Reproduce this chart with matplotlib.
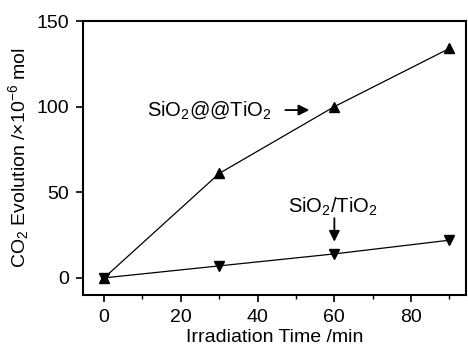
import matplotlib
matplotlib.use("Agg")
import matplotlib.pyplot as plt
from matplotlib.ticker import MultipleLocator

plt.rcParams['font.family'] = ['Liberation Sans', 'DejaVu Sans']
plt.rcParams['mathtext.fontset'] = 'custom'
plt.rcParams['mathtext.rm'] = 'Liberation Sans'
plt.rcParams['mathtext.it'] = 'Liberation Sans'
plt.rcParams['mathtext.default'] = 'regular'

time_min = [0, 30, 60, 90]
core_shell = [0, 61, 100, 134]
mixed = [0, 7, 14, 22]

fig = plt.figure(figsize=(4.68, 3.53), dpi=100)
ax = fig.add_axes([83/468, 1-295/353, (466-83)/468, (295-21)/353])

ax.plot(time_min, core_shell, color='black', lw=0.9, marker='^', ms=7)
ax.plot(time_min, mixed, color='black', lw=0.9, marker='v', ms=7)

ax.set_xlim(-5.5, 94.3)
ax.set_ylim(-10, 150)
ax.xaxis.set_major_locator(MultipleLocator(20))
ax.xaxis.set_minor_locator(MultipleLocator(10))
ax.yaxis.set_major_locator(MultipleLocator(50))
ax.tick_params(direction='out', length=5, width=1.2, labelsize=14, pad=5)
ax.tick_params(which='minor', direction='out', length=3, width=1.0)
for s in ax.spines.values():
    s.set_linewidth(1.5)

ax.set_xlabel('Irradiation Time /min', fontsize=14, labelpad=2)
ax.set_ylabel('CO$_2$ Evolution /×10$^{-6}$ mol', fontsize=14, labelpad=4)

ax.text(27.4, 98, 'SiO$_2$@@TiO$_2$', fontsize=14.5, ha='center', va='center')
ax.annotate('', xy=(54.2, 98), xytext=(46.5, 98),
            arrowprops=dict(arrowstyle='-|>', color='black', lw=1.3, mutation_scale=16))
ax.text(59.5, 41.5, 'SiO$_2$/TiO$_2$', fontsize=14.5, ha='center', va='center')
ax.annotate('', xy=(60, 19.5), xytext=(60, 36.5),
            arrowprops=dict(arrowstyle='-|>', color='black', lw=1.3, mutation_scale=16))

fig.savefig('out.png', dpi=100)
